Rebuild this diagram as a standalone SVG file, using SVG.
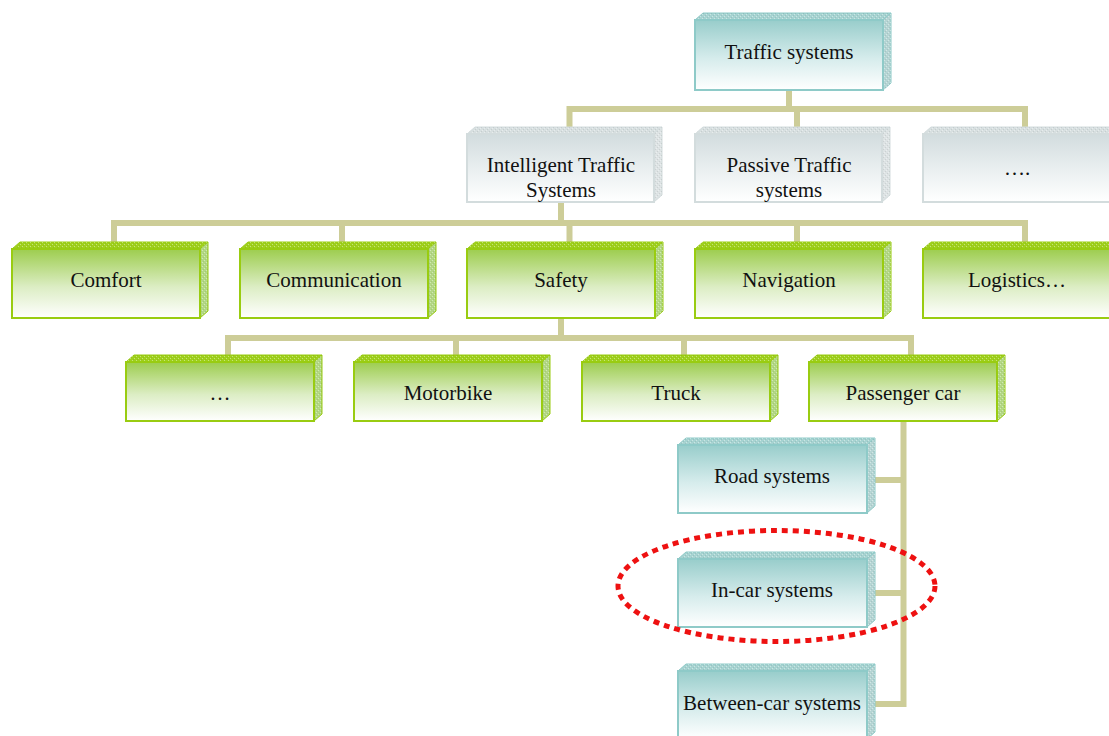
<svg xmlns="http://www.w3.org/2000/svg" width="1109" height="736" viewBox="0 0 1109 736">
  <defs>
    <linearGradient id="gGreen" x1="0" y1="0" x2="0" y2="1">
      <stop offset="0" stop-color="#9dcd4e"/>
      <stop offset="0.55" stop-color="#dcedc4"/>
      <stop offset="1" stop-color="#ffffff"/>
    </linearGradient>
    <linearGradient id="gTeal" x1="0" y1="0" x2="0" y2="1">
      <stop offset="0" stop-color="#98cdcb"/>
      <stop offset="0.55" stop-color="#d6ecec"/>
      <stop offset="1" stop-color="#ffffff"/>
    </linearGradient>
    <linearGradient id="gGray" x1="0" y1="0" x2="0" y2="1">
      <stop offset="0" stop-color="#d2dcde"/>
      <stop offset="0.55" stop-color="#ebf0f1"/>
      <stop offset="1" stop-color="#ffffff"/>
    </linearGradient>
    <!-- fine grain used on the bevel faces -->
    <pattern id="grain" width="4" height="4" patternUnits="userSpaceOnUse">
      <rect x="0" y="0" width="1" height="1" fill="#ffffff" fill-opacity="0.4"/>
      <rect x="2" y="2" width="1" height="1" fill="#ffffff" fill-opacity="0.4"/>
      <rect x="1" y="3" width="1" height="1" fill="#000000" fill-opacity="0.08"/>
      <rect x="3" y="1" width="1" height="1" fill="#000000" fill-opacity="0.08"/>
    </pattern>
  </defs>
  <style>
    .wire { fill: none; stroke: #cdcd98; stroke-width: 6; stroke-linejoin: miter; stroke-linecap: butt; }
    .green .face { fill: url(#gGreen); stroke: #99cc11; stroke-width: 2; }
    .green .top { fill: #9fd01c; stroke: #99cc11; stroke-width: 1; }
    .green .side { fill: #b3d884; stroke: #99cc11; stroke-width: 1; }
    .teal .face { fill: url(#gTeal); stroke: #8ecac8; stroke-width: 2; }
    .teal .top { fill: #a6d3d1; stroke: #8ecac8; stroke-width: 1; }
    .teal .side { fill: #b5d5d4; stroke: #8ecac8; stroke-width: 1; }
    .gray .face { fill: url(#gGray); stroke: #d3dcdd; stroke-width: 2; }
    .gray .top { fill: #d7dfe0; stroke: #d3dcdd; stroke-width: 1; }
    .gray .side { fill: #dde3e4; stroke: #d3dcdd; stroke-width: 1; }
    .tex { fill: url(#grain); stroke: none; }
    .label { font-family: "Liberation Serif", "Times New Roman", serif; font-size: 21px; fill: #111111; text-anchor: middle; }
    .ring { fill: none; stroke: #ee1111; stroke-width: 5; stroke-dasharray: 6 5; }
  </style>

  <g id="connectors">
    <path class="wire" d="M789 90 V109"/>
    <path class="wire" d="M569.5 128 V109 H1025 V128"/>
    <path class="wire" d="M797 109 V128"/>

    <path class="wire" d="M561 202 V223"/>
    <path class="wire" d="M114 243 V223 H1025 V243"/>
    <path class="wire" d="M342 223 V243"/>
    <path class="wire" d="M569.5 223 V243"/>
    <path class="wire" d="M797 223 V243"/>

    <path class="wire" d="M561 318 V338"/>
    <path class="wire" d="M228 356 V338 H911 V356"/>
    <path class="wire" d="M456 338 V356"/>
    <path class="wire" d="M684 338 V356"/>

    <path class="wire" d="M903.5 421 V704 H874"/>
    <path class="wire" d="M874 480 H903.5"/>
    <path class="wire" d="M874 593 H903.5"/>
  </g>

  <!-- top level -->
  <g id="traffic-systems" class="teal">
    <polygon class="top" points="695,20 703,13 891,13 883,20"/>
    <polygon class="tex" points="695,20 703,13 891,13 883,20"/>
    <polygon class="side" points="883,20 891,13 891,83 883,90"/>
    <polygon class="tex" points="883,20 891,13 891,83 883,90"/>
    <rect class="face" x="695" y="20" width="188" height="70"/>
    <text class="label" x="789" y="59">Traffic systems</text>
  </g>

  <!-- second level -->
  <g id="intelligent-traffic-systems" class="gray">
    <polygon class="top" points="467,134 475,127 662,127 654,134"/>
    <polygon class="tex" points="467,134 475,127 662,127 654,134"/>
    <polygon class="side" points="654,134 662,127 662,195 654,202"/>
    <polygon class="tex" points="654,134 662,127 662,195 654,202"/>
    <rect class="face" x="467" y="134" width="187" height="68"/>
    <text class="label" x="561" y="172">Intelligent Traffic</text>
    <text class="label" x="561" y="197">Systems</text>
  </g>
  <g id="passive-traffic-systems" class="gray">
    <polygon class="top" points="695,134 703,127 890,127 882,134"/>
    <polygon class="tex" points="695,134 703,127 890,127 882,134"/>
    <polygon class="side" points="882,134 890,127 890,195 882,202"/>
    <polygon class="tex" points="882,134 890,127 890,195 882,202"/>
    <rect class="face" x="695" y="134" width="187" height="68"/>
    <text class="label" x="789" y="172">Passive Traffic</text>
    <text class="label" x="789" y="197">systems</text>
  </g>
  <g id="other-traffic-systems" class="gray">
    <polygon class="top" points="923,134 931,127 1118,127 1110,134"/>
    <polygon class="tex" points="923,134 931,127 1118,127 1110,134"/>
    <rect class="face" x="923" y="134" width="187" height="68"/>
    <text class="label" x="1017" y="175">….</text>
  </g>

  <!-- application areas -->
  <g id="comfort" class="green">
    <polygon class="top" points="12,249 20,242 208,242 200,249"/>
    <polygon class="tex" points="12,249 20,242 208,242 200,249"/>
    <polygon class="side" points="200,249 208,242 208,311 200,318"/>
    <polygon class="tex" points="200,249 208,242 208,311 200,318"/>
    <rect class="face" x="12" y="249" width="188" height="69"/>
    <text class="label" x="106" y="287">Comfort</text>
  </g>
  <g id="communication" class="green">
    <polygon class="top" points="240,249 248,242 436,242 428,249"/>
    <polygon class="tex" points="240,249 248,242 436,242 428,249"/>
    <polygon class="side" points="428,249 436,242 436,311 428,318"/>
    <polygon class="tex" points="428,249 436,242 436,311 428,318"/>
    <rect class="face" x="240" y="249" width="188" height="69"/>
    <text class="label" x="334" y="287">Communication</text>
  </g>
  <g id="safety" class="green">
    <polygon class="top" points="467,249 475,242 663,242 655,249"/>
    <polygon class="tex" points="467,249 475,242 663,242 655,249"/>
    <polygon class="side" points="655,249 663,242 663,311 655,318"/>
    <polygon class="tex" points="655,249 663,242 663,311 655,318"/>
    <rect class="face" x="467" y="249" width="188" height="69"/>
    <text class="label" x="561" y="287">Safety</text>
  </g>
  <g id="navigation" class="green">
    <polygon class="top" points="695,249 703,242 891,242 883,249"/>
    <polygon class="tex" points="695,249 703,242 891,242 883,249"/>
    <polygon class="side" points="883,249 891,242 891,311 883,318"/>
    <polygon class="tex" points="883,249 891,242 891,311 883,318"/>
    <rect class="face" x="695" y="249" width="188" height="69"/>
    <text class="label" x="789" y="287">Navigation</text>
  </g>
  <g id="logistics" class="green">
    <polygon class="top" points="923,249 931,242 1119,242 1111,249"/>
    <polygon class="tex" points="923,249 931,242 1119,242 1111,249"/>
    <rect class="face" x="923" y="249" width="188" height="69"/>
    <text class="label" x="1017" y="287">Logistics…</text>
  </g>

  <!-- vehicle types -->
  <g id="other-vehicles" class="green">
    <polygon class="top" points="126,362 134,355 322,355 314,362"/>
    <polygon class="tex" points="126,362 134,355 322,355 314,362"/>
    <polygon class="side" points="314,362 322,355 322,414 314,421"/>
    <polygon class="tex" points="314,362 322,355 322,414 314,421"/>
    <rect class="face" x="126" y="362" width="188" height="59"/>
    <text class="label" x="220" y="400">…</text>
  </g>
  <g id="motorbike" class="green">
    <polygon class="top" points="354,362 362,355 550,355 542,362"/>
    <polygon class="tex" points="354,362 362,355 550,355 542,362"/>
    <polygon class="side" points="542,362 550,355 550,414 542,421"/>
    <polygon class="tex" points="542,362 550,355 550,414 542,421"/>
    <rect class="face" x="354" y="362" width="188" height="59"/>
    <text class="label" x="448" y="400">Motorbike</text>
  </g>
  <g id="truck" class="green">
    <polygon class="top" points="582,362 590,355 778,355 770,362"/>
    <polygon class="tex" points="582,362 590,355 778,355 770,362"/>
    <polygon class="side" points="770,362 778,355 778,414 770,421"/>
    <polygon class="tex" points="770,362 778,355 778,414 770,421"/>
    <rect class="face" x="582" y="362" width="188" height="59"/>
    <text class="label" x="676" y="400">Truck</text>
  </g>
  <g id="passenger-car" class="green">
    <polygon class="top" points="809,362 817,355 1005,355 997,362"/>
    <polygon class="tex" points="809,362 817,355 1005,355 997,362"/>
    <polygon class="side" points="997,362 1005,355 1005,414 997,421"/>
    <polygon class="tex" points="997,362 1005,355 1005,414 997,421"/>
    <rect class="face" x="809" y="362" width="188" height="59"/>
    <text class="label" x="903" y="400">Passenger car</text>
  </g>

  <!-- passenger car subsystems -->
  <g id="road-systems" class="teal">
    <polygon class="top" points="678,445 686,438 875,438 867,445"/>
    <polygon class="tex" points="678,445 686,438 875,438 867,445"/>
    <polygon class="side" points="867,445 875,438 875,506 867,513"/>
    <polygon class="tex" points="867,445 875,438 875,506 867,513"/>
    <rect class="face" x="678" y="445" width="189" height="68"/>
    <text class="label" x="772" y="483">Road systems</text>
  </g>
  <g id="in-car-systems" class="teal">
    <polygon class="top" points="678,559 686,552 875,552 867,559"/>
    <polygon class="tex" points="678,559 686,552 875,552 867,559"/>
    <polygon class="side" points="867,559 875,552 875,620 867,627"/>
    <polygon class="tex" points="867,559 875,552 875,620 867,627"/>
    <rect class="face" x="678" y="559" width="189" height="68"/>
    <text class="label" x="772" y="597">In-car systems</text>
  </g>
  <g id="between-car-systems" class="teal">
    <polygon class="top" points="678,671 686,664 875,664 867,671"/>
    <polygon class="tex" points="678,671 686,664 875,664 867,671"/>
    <polygon class="side" points="867,671 875,664 875,732 867,739"/>
    <polygon class="tex" points="867,671 875,664 875,732 867,739"/>
    <rect class="face" x="678" y="671" width="189" height="68"/>
    <text class="label" x="772" y="710">Between-car systems</text>
  </g>

  <!-- highlight around the in-car systems -->
  <ellipse id="focus-ring" class="ring" cx="776.5" cy="586" rx="158.5" ry="55.5"/>
</svg>
